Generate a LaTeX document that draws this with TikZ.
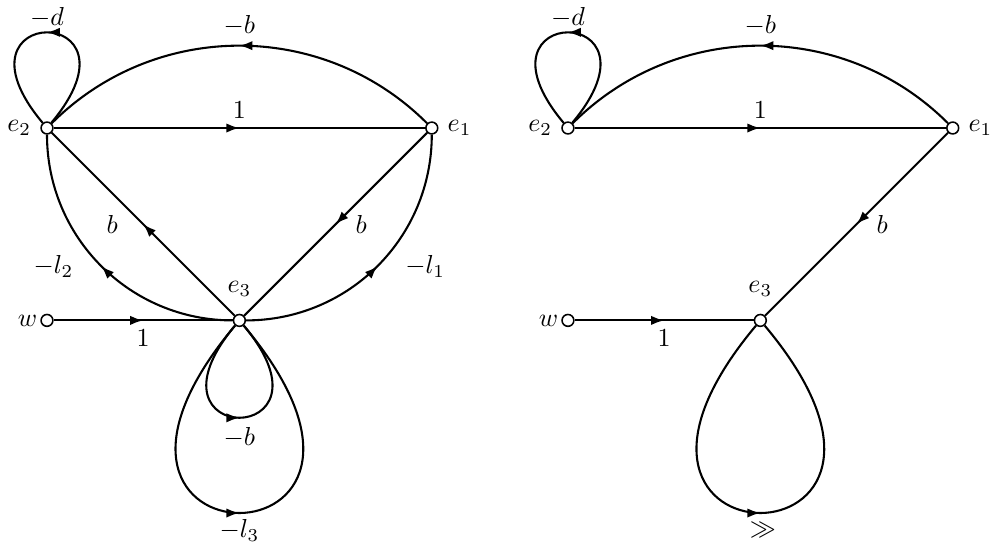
\documentclass[tikz,border=0pt]{standalone}
\usepackage{amsmath}
\usepackage{amssymb}
\usepackage{tikz}
\usetikzlibrary{arrows.meta, positioning, decorations.markings}

\begin{document}
\begin{tikzpicture}[
  %% node and branch styles
  sig/.style={circle, draw, fill=white, inner sep=0pt,
    minimum size=0.16cm, line width=0.6pt},
  br/.style={line width=0.8pt, postaction={decorate},
    decoration={markings, mark=at position 0.5 with
      {\arrow{Latex[length=5pt,width=3.6pt]}}}}
]
\useasboundingbox (-0.635,-5.676) rectangle (12.811,1.730);

%% ── left graph ──────────────────────────────────────────
\node[sig, label=left:$e_2$] (e2l) at (0,0) {};
\node[sig, label=right:$e_1$] (e1l) at (5.2,0) {};
\node[sig, label={[label distance=3pt]above:$e_3$}] (e3l) at (2.6,-2.6) {};
\node[sig, label={[inner sep=1pt]left:$w$}] (wl) at (0,-2.6) {};

\draw[br] (e2l) -- node[above] {$1$} (e1l);
\draw[br] (e1l) to[bend right=45] node[above] {$-b$} (e2l);
\draw[br] (e2l) .. controls +(50:2.22) and +(130:2.22) .. (e2l)
  node[midway, above, inner sep=1.5pt] {$-d$};
\draw[br] (e3l) -- node[left=6pt] {$b$} (e2l);
\draw[br] (e1l) -- node[right=4pt] {$b$} (e3l);
\draw[br] (e3l) to[out=180, in=-90] node[left=7pt] {$-l_2$} (e2l);
\draw[br] (e3l) to[out=0, in=-90] node[right=7pt] {$-l_1$} (e1l);
\draw[br] (wl) -- node[below] {$1$} (e3l);
%% self loops at e3
\draw[br] (e3l) .. controls +(230:2.26) and +(310:2.26) .. (e3l)
  node[midway, below] {$-b$};
\draw[br] (e3l) .. controls +(230:4.5) and +(310:4.5) .. (e3l)
  node[midway, below, inner sep=2pt] {$-l_3$};

%% ── right graph ─────────────────────────────────────────
\node[sig, label=left:$e_2$] (e2r) at (7.04,0) {};
\node[sig, label=right:$e_1$] (e1r) at (12.24,0) {};
\node[sig, label={[label distance=3pt]above:$e_3$}] (e3r) at (9.64,-2.6) {};
\node[sig, label={[inner sep=1pt]left:$w$}] (wr) at (7.04,-2.6) {};

\draw[br] (e2r) -- node[above] {$1$} (e1r);
\draw[br] (e1r) to[bend right=45] node[above] {$-b$} (e2r);
\draw[br] (e2r) .. controls +(50:2.22) and +(130:2.22) .. (e2r)
  node[midway, above, inner sep=1.5pt] {$-d$};
\draw[br] (e1r) -- node[right=4pt] {$b$} (e3r);
\draw[br] (wr) -- node[below] {$1$} (e3r);
\draw[br] (e3r) .. controls +(230:4.5) and +(310:4.5) .. (e3r)
  node[midway, below, xshift=1pt] {$\gg$};

\end{tikzpicture}
\end{document}
